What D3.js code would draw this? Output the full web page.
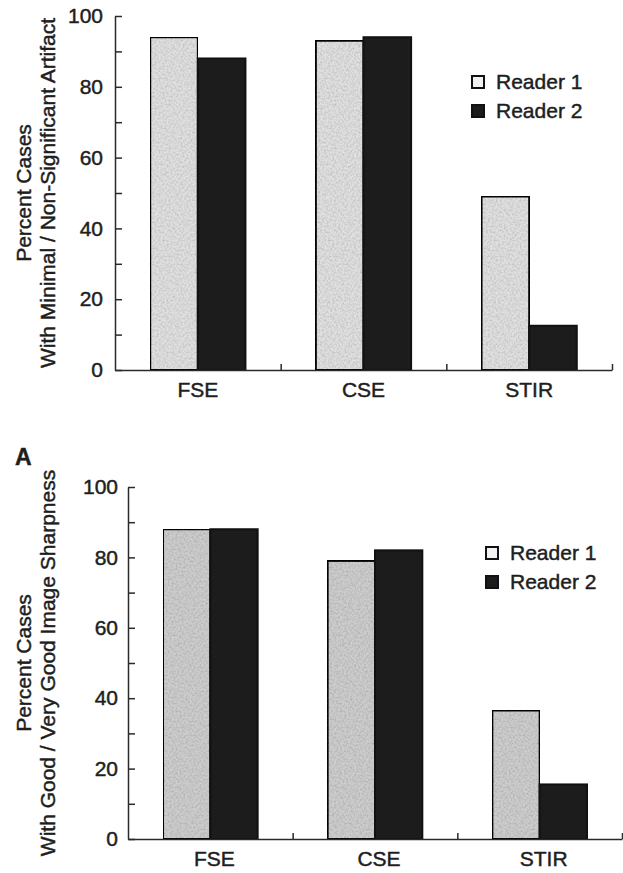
<!DOCTYPE html>
<html>
<head>
<meta charset="utf-8">
<script src="https://cdn.jsdelivr.net/npm/d3@7"></script>
<style>
  body { margin: 0; background: #fff; }
  svg text { font-family: "Liberation Sans", Arial, sans-serif; fill: #1e1e1e; stroke: #1e1e1e; stroke-width: 0.45px; }
</style>
</head>
<body>
<div id="chart"></div>
<script>
// data
var categories = ["FSE", "CSE", "STIR"];
var readers = ["Reader 1", "Reader 2"];
var artifactR1 = [94, 93, 49];
var artifactR2 = [88, 94, 12.5];
var sharpR1 = [88, 79, 36.5];
var sharpR2 = [88, 82, 15.5];
var yTicks = [0, 20, 40, 60, 80, 100];
var yMinor = [10, 30, 50, 70, 90];

var svg = d3.select("#chart").append("svg")
  .attr("width", 623)
  .attr("height", 873);

// speckled gray like the printed screen tone
var defs = svg.append("defs");
var grain = defs.append("filter").attr("id", "grain")
  .attr("x", 0).attr("y", 0).attr("width", 1).attr("height", 1);
grain.append("feTurbulence").attr("type", "fractalNoise")
  .attr("baseFrequency", 0.5).attr("numOctaves", 2).attr("seed", 3).attr("result", "noise");
grain.append("feColorMatrix").attr("in", "noise").attr("type", "matrix")
  .attr("values", "0 0 0 0 0  0 0 0 0 0  0 0 0 0 0  0 0 0 0.6 -0.22")
  .attr("result", "speck");
grain.append("feComposite").attr("in", "speck").attr("in2", "SourceGraphic")
  .attr("operator", "in").attr("result", "speckIn");
grain.append("feMerge").selectAll("feMergeNode")
  .data(["SourceGraphic", "speckIn"]).enter().append("feMergeNode")
  .attr("in", d => d);

var FONT = 21;

// one panel = one grouped bar chart
function drawPanel(opt) {
  var g = svg.append("g")
    .attr("transform", `translate(${opt.left}, ${opt.top})`);

  var x0 = d3.scaleBand().domain(categories).range([0, opt.width]);
  var x1 = d3.scaleBand().domain(readers).range([0, x0.bandwidth()])
    .paddingInner(0).paddingOuter(0.74);
  var y = d3.scaleLinear().domain([0, 100]).range([opt.height, 0]);
  var xb = d3.scaleLinear().domain([0, 3]).range([0, opt.width]);

  var rows = categories.map((c, i) => ({cat: c, vals: [opt.r1[i], opt.r2[i]]}));

  // bars
  var grp = g.selectAll(".grp").data(rows).enter().append("g")
    .attr("transform", d => `translate(${x0(d.cat)}, 0)`);
  grp.selectAll("rect")
    .data(d => d.vals.map((v, k) => ({reader: readers[k], v: v})))
    .enter().append("rect")
    .attr("x", d => x1(d.reader))
    .attr("y", d => y(d.v))
    .attr("width", x1.bandwidth())
    .attr("height", d => opt.height - y(d.v))
    .attr("fill", d => d.reader == "Reader 1" ? opt.gray : "#1c1c1c")
    .attr("filter", d => d.reader == "Reader 1" ? "url(#grain)" : null)
    .attr("stroke", "#111")
    .attr("stroke-width", 2);

  // y axis: ticks point inward
  var yAxis = g.append("g")
    .call(d3.axisLeft(y).tickValues(yTicks).tickSizeInner(-7).tickSizeOuter(0).tickPadding(opt.labelPad));
  g.append("g")
    .call(d3.axisLeft(y).tickValues(yMinor).tickSizeInner(-7).tickSizeOuter(0).tickFormat(""))
    .select(".domain").remove();
  yAxis.selectAll("text").attr("font-size", FONT).style("font-family", null);

  // x axis with boundary ticks pointing up
  g.append("g")
    .attr("transform", `translate(0, ${opt.height})`)
    .call(d3.axisBottom(xb).tickValues([1, 2, 3]).tickSizeInner(-6).tickSizeOuter(0).tickFormat(""));
  var xLab = g.append("g")
    .attr("transform", `translate(0, ${opt.height})`)
    .call(d3.axisBottom(x0).tickSize(0).tickPadding(12));
  xLab.select(".domain").remove();
  xLab.selectAll("text").attr("font-size", FONT).attr("dx", opt.labelShift).style("font-family", null);

  g.selectAll(".domain, .tick line").attr("stroke", "#2a2a2a").attr("stroke-width", 1.5);
  g.selectAll("text").attr("fill", "#1e1e1e");

  // y axis title, two lines
  var mid = opt.top + opt.height / 2;
  opt.title.forEach(function(t, i) {
    svg.append("text")
      .attr("transform", `translate(${[31, 55][i]}, ${mid}) rotate(-90)`)
      .attr("text-anchor", "middle")
      .attr("font-size", FONT)
      .text(t);
  });

  // legend
  readers.forEach(function(r, i) {
    svg.append("rect")
      .attr("x", opt.legX).attr("y", opt.legY + i * 29)
      .attr("width", 12).attr("height", 12)
      .attr("fill", i == 0 ? "#f2f2f2" : "#1c1c1c")
      .attr("stroke", "#111").attr("stroke-width", 2);
    svg.append("text")
      .attr("x", opt.legX + 24).attr("y", opt.legY + i * 29 + 13)
      .attr("font-size", FONT)
      .text(r);
  });
}

drawPanel({left: 115, top: 16, width: 497, height: 354, r1: artifactR1, r2: artifactR2,
  gray: "#e0e0e0", labelPad: 12, labelShift: 0, legX: 472, legY: 76,
  title: ["Percent Cases", "With Minimal / Non-Significant Artifact"]});

drawPanel({left: 128, top: 487, width: 494, height: 352, r1: sharpR1, r2: sharpR2,
  gray: "#cdcdcd", labelPad: 10, labelShift: 4, legX: 486, legY: 547,
  title: ["Percent Cases", "With Good / Very Good Image Sharpness"]});

svg.append("text")
  .attr("x", 15).attr("y", 465)
  .attr("font-size", 23).attr("font-weight", "bold")
  .text("A");
</script>
</body>
</html>
